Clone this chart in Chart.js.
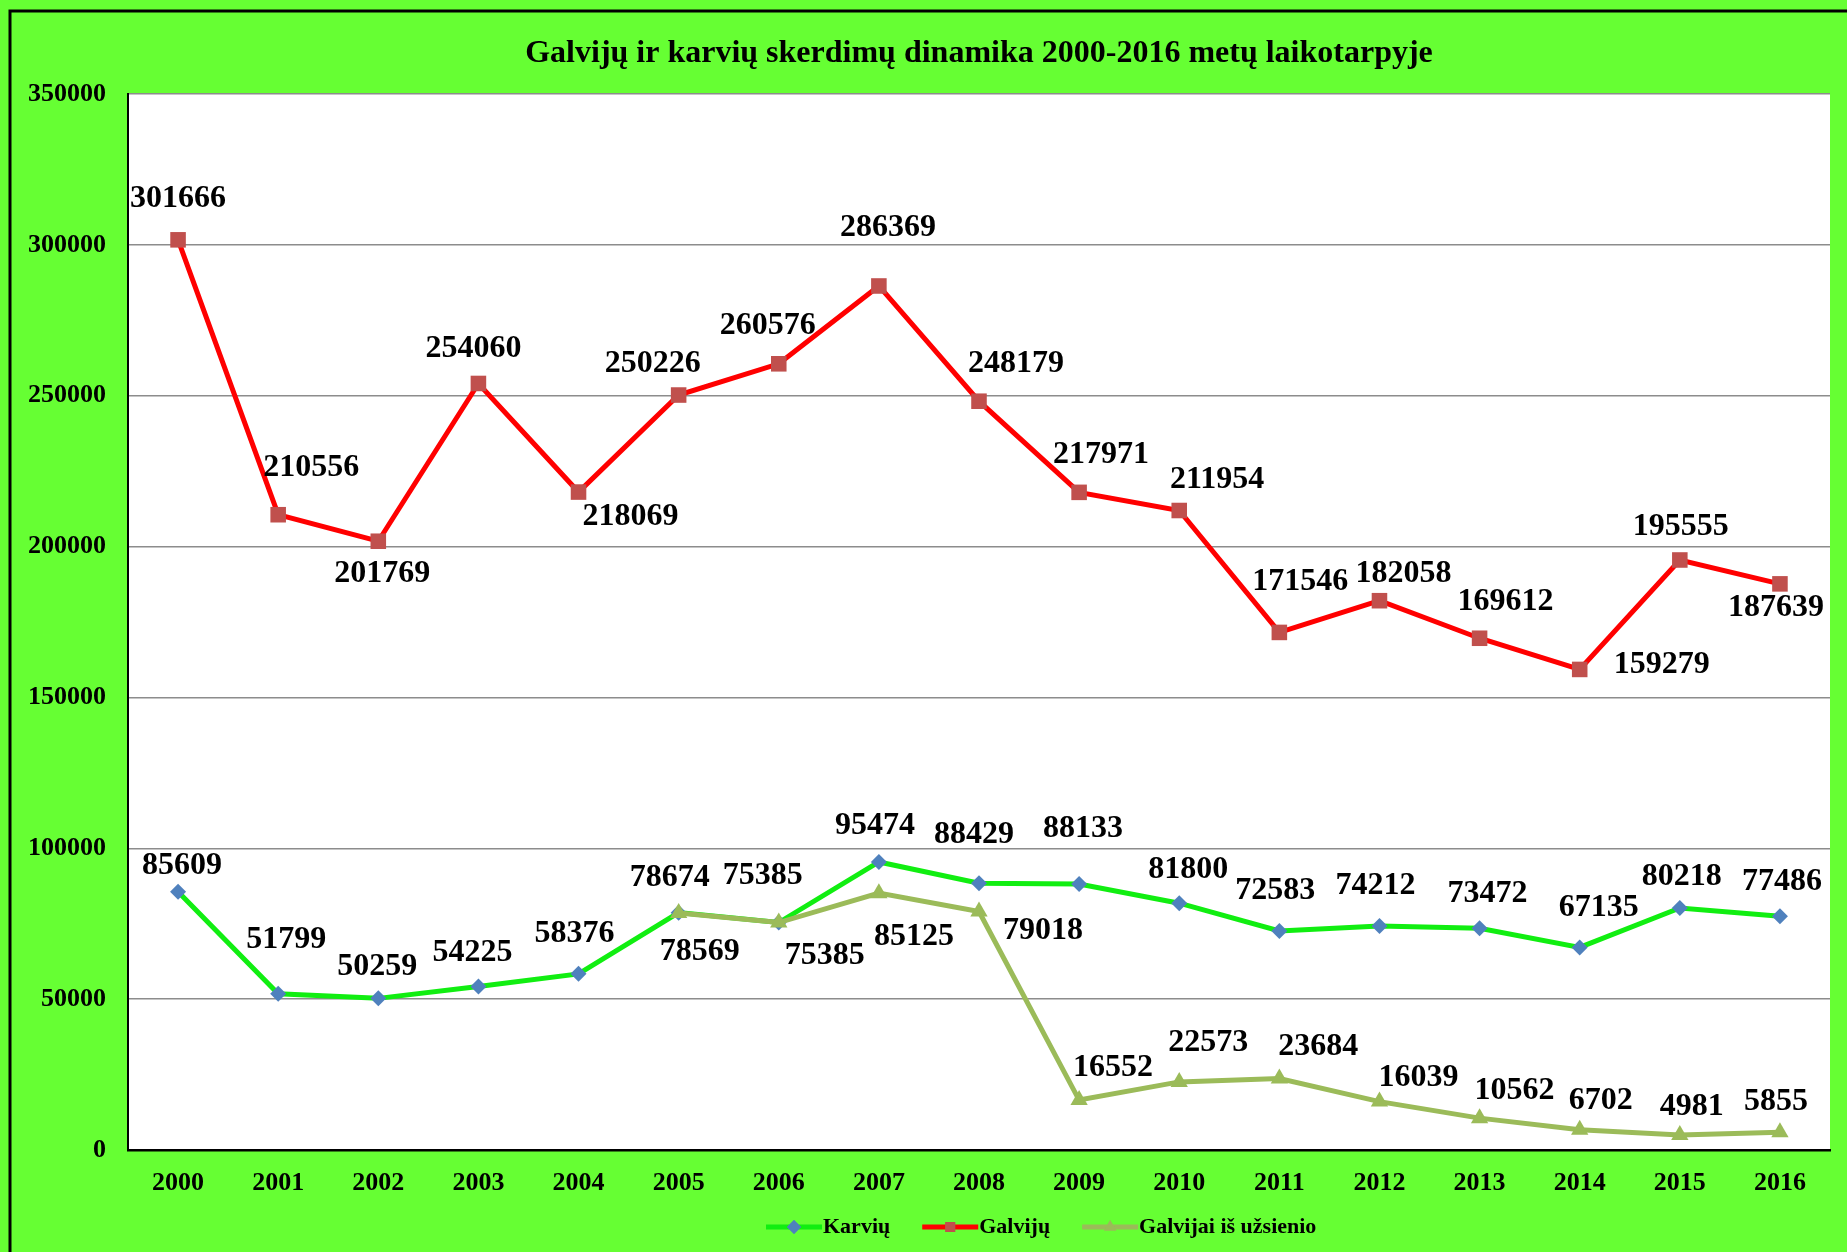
<!DOCTYPE html>
<html>
<head>
<meta charset="utf-8">
<script src="https://cdn.jsdelivr.net/npm/chart.js@4.4.0/dist/chart.umd.min.js"></script>
<style>
  html, body { margin: 0; padding: 0; background: #66ff33; }
  #wrap { width: 1847px; height: 1252px; }
</style>
</head>
<body>
<div id="wrap"><canvas id="chart" width="1847" height="1252"></canvas></div>
<script>
const years = ['2000', '2001', '2002', '2003', '2004', '2005', '2006', '2007', '2008',
  '2009', '2010', '2011', '2012', '2013', '2014', '2015', '2016'];
const karviu = [85609, 51799, 50259, 54225, 58376, 78674, 75385, 95474, 88429,
  88133, 81800, 72583, 74212, 73472, 67135, 80218, 77486];
const galviju = [301666, 210556, 201769, 254060, 218069, 250226, 260576, 286369, 248179,
  217971, 211954, 171546, 182058, 169612, 159279, 195555, 187639];
const uzsienio = [null, null, null, null, null, 78569, 75385, 85125, 79018,
  16552, 22573, 23684, 16039, 10562, 6702, 4981, 5855];

const titleText = 'Galvijų ir karvių skerdimų dinamika 2000-2016 metų laikotarpyje';
const names = ['Karvių', 'Galvijų', 'Galvijai iš užsienio'];

// where each value label sits relative to its point (px)
const karviuPos = [[4,-26],[8,-54],[-1,-32],[-6,-34],[-4,-40],[-9,-35],[-16,-47],[-4,-36],[-5,-48],
  [4,-55],[9,-33],[-4,-40],[-4,-40],[8,-35],[19,-40],[2,-31],[2,-34]];
const galvijuPos = [[0,-41],[33,-47],[4,33],[-5,-35],[52,25],[-26,-31],[-11,-38],[9,-58],[37,-37],
  [22,-38],[38,-31],[21,-51],[24,-27],[26,-37],[82,-5],[1,-33],[-4,24]];
const uzsienioPos = [null,null,null,null,null,[21,39],[46,33],[35,44],[64,19],
  [34,-32],[29,-39],[39,-32],[39,-24],[35,-27],[21,-29],[12,-28],[-4,-31]];

const SERIF = '"Liberation Serif", "Times New Roman", serif';
const GREEN_BG = '#66ff33';

const backdrop = {
  id: 'backdrop',
  beforeDraw(chart) {
    const { ctx, chartArea: a, width, height } = chart;
    ctx.save();
    ctx.fillStyle = GREEN_BG;
    ctx.fillRect(0, 0, width, height);
    ctx.fillStyle = '#ffffff';
    ctx.fillRect(a.left, a.top, a.right - a.left, a.bottom - a.top);
    // outer frame, top and left
    ctx.strokeStyle = '#000';
    ctx.lineWidth = 3;
    ctx.beginPath();
    ctx.moveTo(10, height);
    ctx.lineTo(10, 11);
    ctx.lineTo(width, 11);
    ctx.stroke();
    // title
    ctx.fillStyle = '#000';
    ctx.font = 'bold 32px ' + SERIF;
    ctx.textAlign = 'center';
    ctx.textBaseline = 'middle';
    ctx.fillText(titleText, (a.left + a.right) / 2, 54);
    ctx.restore();
  }
};

const valueLabels = {
  id: 'valueLabels',
  afterDatasetsDraw(chart) {
    const { ctx } = chart;
    const offsets = [karviuPos, galvijuPos, uzsienioPos];
    ctx.save();
    ctx.fillStyle = '#000';
    ctx.font = 'bold 32px ' + SERIF;
    ctx.textAlign = 'center';
    ctx.textBaseline = 'middle';
    chart.data.datasets.forEach((ds, di) => {
      const meta = chart.getDatasetMeta(di);
      ds.data.forEach((v, i) => {
        if (v === null) return;
        const pt = meta.data[i];
        const off = offsets[di][i];
        ctx.fillText(String(v), pt.x + off[0], pt.y + off[1]);
      });
    });
    ctx.restore();
  }
};

const legendRow = {
  id: 'legendRow',
  afterDraw(chart) {
    const { ctx } = chart;
    const y = 1227;
    let x = 766;
    ctx.save();
    ctx.font = 'bold 22px ' + SERIF;
    ctx.textBaseline = 'middle';
    chart.data.datasets.forEach((ds) => {
      ctx.strokeStyle = ds.borderColor;
      ctx.lineWidth = 5;
      ctx.beginPath();
      ctx.moveTo(x, y);
      ctx.lineTo(x + 56, y);
      ctx.stroke();
      ctx.fillStyle = ds.pointBackgroundColor;
      Chart.helpers.drawPoint(ctx, { pointStyle: ds.pointStyle, radius: 7, rotation: 0, borderWidth: 0 }, x + 28, y);
      ctx.fill();
      ctx.fillStyle = '#000';
      ctx.fillText(ds.label, x + 57, y);
      x += 57 + ctx.measureText(ds.label).width + 32;
    });
    ctx.restore();
  }
};

new Chart(document.getElementById('chart'), {
  type: 'line',
  data: {
    labels: years,
    datasets: [{
      label: names[0],
      data: karviu,
      borderColor: '#11ee11',
      borderWidth: 5,
      pointStyle: 'rectRot',
      pointRadius: 8,
      pointBackgroundColor: '#4f81bd',
      pointBorderWidth: 0,
      tension: 0,
      order: 1
    }, {
      label: names[1],
      data: galviju,
      borderColor: '#ff0000',
      borderWidth: 5,
      pointStyle: 'rect',
      pointRadius: 11,
      pointBackgroundColor: '#c0504d',
      pointBorderWidth: 0,
      tension: 0,
      order: 2
    }, {
      label: names[2],
      data: uzsienio,
      borderColor: '#9bbb59',
      borderWidth: 5,
      pointStyle: 'triangle',
      pointRadius: 10,
      pointBackgroundColor: '#9bbb59',
      pointBorderWidth: 0,
      tension: 0,
      spanGaps: false,
      order: 0
    }]
  },
  options: {
    responsive: false,
    animation: false,
    devicePixelRatio: 1,
    layout: { padding: { left: 0, top: 94, right: 17, bottom: 0 } },
    plugins: {
      legend: { display: false },
      title: { display: false },
      tooltip: { enabled: false }
    },
    scales: {
      x: {
        offset: true,
        grid: { display: false, drawTicks: false },
        border: { display: true, color: '#000', width: 2.5 },
        ticks: {
          color: '#000',
          padding: 18,
          font: { family: SERIF, size: 26, weight: 'bold' }
        },
        afterFit(scale) { scale.height = 102; }
      },
      y: {
        min: 0,
        max: 350000,
        grid: { color: '#8c8c8c', lineWidth: 1.5, drawTicks: false },
        border: { display: true, color: '#000', width: 2 },
        ticks: {
          stepSize: 50000,
          color: '#000',
          padding: 22,
          font: { family: SERIF, size: 26, weight: 'bold' },
          callback: v => String(v)
        },
        afterFit(scale) { scale.width = 128; }
      }
    }
  },
  plugins: [backdrop, valueLabels, legendRow]
});
</script>
</body>
</html>
